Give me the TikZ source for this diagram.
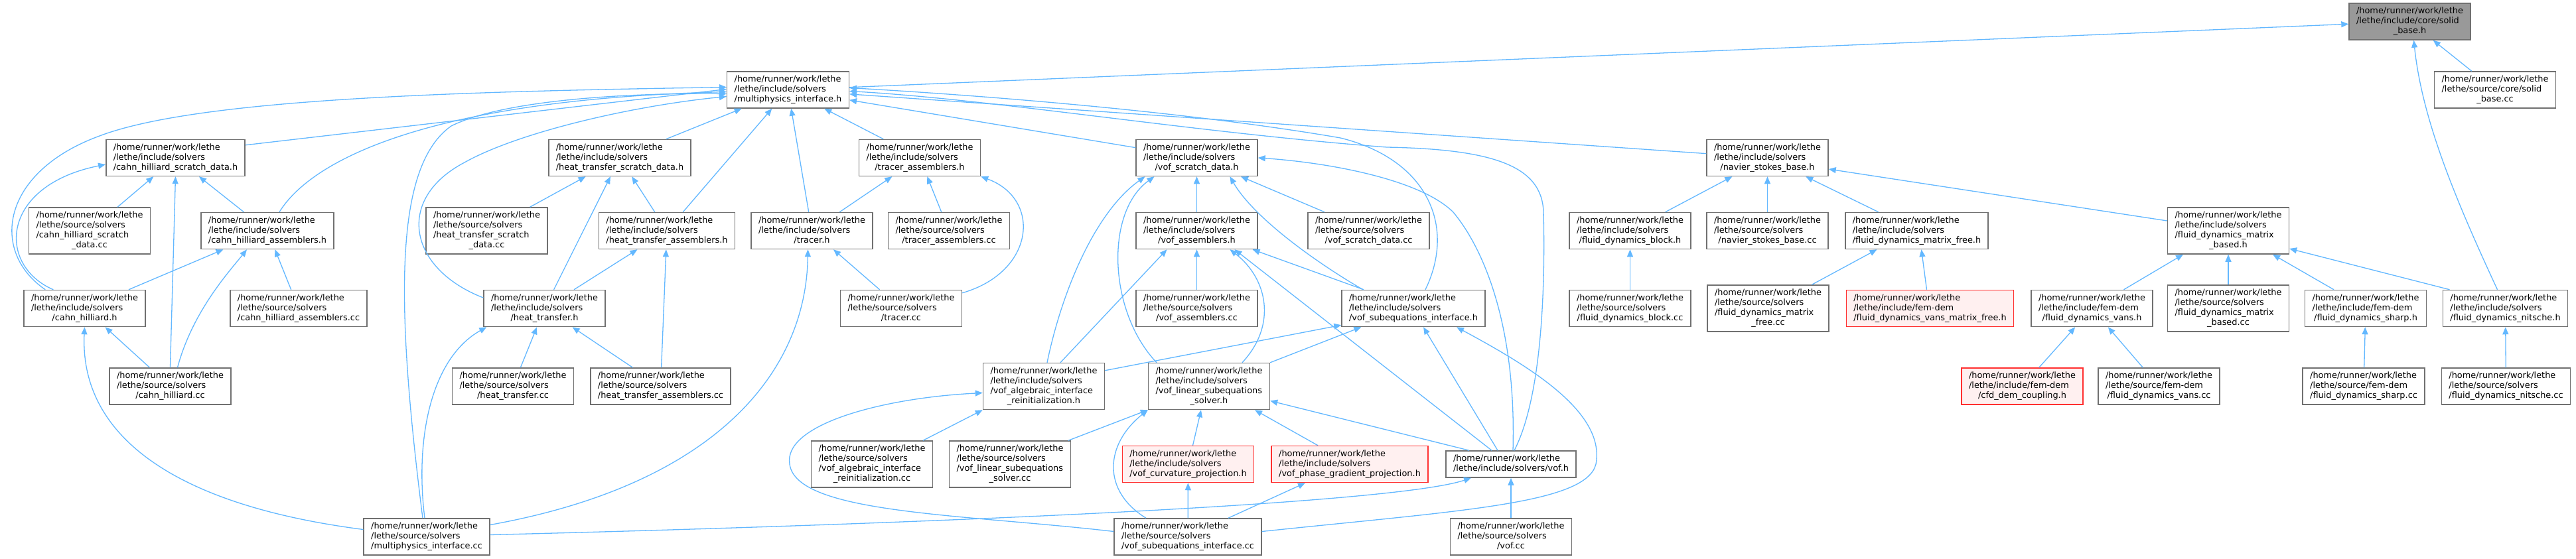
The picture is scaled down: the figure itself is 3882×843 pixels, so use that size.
\documentclass[tikz,border=0pt]{standalone}
\usepackage{fontspec}
\setmainfont{DejaVu Sans}
\usepackage{tikz}
\usetikzlibrary{arrows.meta}

\definecolor{boxgray}{HTML}{707070}
\definecolor{rootgray}{HTML}{999999}
\definecolor{truncred}{HTML}{FF3030}
\definecolor{truncfill}{HTML}{FFF0F0}
\definecolor{linkblue}{HTML}{63B8FF}

% doxygen style label: left lines, last line centred
\newcommand{\lethefile}[2]{\begin{tabular}{@{}l@{}}/home/runner/work/lethe\\#1\\\multicolumn{1}{@{}c@{}}{#2}\end{tabular}}

\begin{document}
\begin{tikzpicture}[x=1pt, y=-1pt,
					filebox/.style={
						draw=boxgray,
						fill=white,
						rectangle,
						line width=1.5pt,
						inner xsep=11pt,
						inner ysep=5pt,
						font=\fontsize{12.9}{15}\selectfont
					},
					truncbox/.style={filebox, draw=truncred, fill=truncfill},
					rootbox/.style={filebox, fill=rootgray},
					incl/.style={-{Triangle[length=11pt, width=9pt]}, line width=1.3pt, color=linkblue}
					]
					\path [use as bounding box, fill=white] (0,0) rectangle (3882,843);
					
					% Top boxes
					\node (solidbaseh) [rootbox] at (3631.5, 32.5) {\lethefile{/lethe/include/core/solid}{\_base.h}};
					\node (mpih) [filebox] at (1187.5, 135.5) {\lethefile{/lethe/include/solvers}{/multiphysics\_interface.h}};
					\node (solidbasecc) [filebox] at (3760, 135.5) {\lethefile{/lethe/source/core/solid}{\_base.cc}};
					
					% Second row
					\node (chscratchh) [filebox] at (264.5, 238) {\lethefile{/lethe/include/solvers}{/cahn\_hilliard\_scratch\_data.h}};
					\node (htscratchh) [filebox] at (934, 238) {\lethefile{/lethe/include/solvers}{/heat\_transfer\_scratch\_data.h}};
					\node (trassemh) [filebox] at (1386, 238) {\lethefile{/lethe/include/solvers}{/tracer\_assemblers.h}};
					\node (vofscratchh) [filebox] at (1803.5, 238) {\lethefile{/lethe/include/solvers}{/vof\_scratch\_data.h}};
					\node (nsbaseh) [filebox] at (2663.5, 238) {\lethefile{/lethe/include/solvers}{/navier\_stokes\_base.h}};
					
					% Third row
					\node (chscratchcc) [filebox] at (135, 348) {\lethefile{/lethe/source/solvers\\/cahn\_hilliard\_scratch}{\_data.cc}};
					\node (chassemh) [filebox] at (403, 348) {\lethefile{/lethe/include/solvers}{/cahn\_hilliard\_assemblers.h}};
					\node (htscratchcc) [filebox] at (733.5, 348) {\lethefile{/lethe/source/solvers\\/heat\_transfer\_scratch}{\_data.cc}};
					\node (htassemh) [filebox] at (1005, 348) {\lethefile{/lethe/include/solvers}{/heat\_transfer\_assemblers.h}};
					\node (tracerh) [filebox] at (1223.5, 348) {\lethefile{/lethe/include/solvers}{/tracer.h}};
					\node (trassemcc) [filebox] at (1430, 348) {\lethefile{/lethe/source/solvers}{/tracer\_assemblers.cc}};
					\node (vofassemh) [filebox] at (1803.5, 348) {\lethefile{/lethe/include/solvers}{/vof\_assemblers.h}};
					\node (vofscratchcc) [filebox] at (2062.5, 348) {\lethefile{/lethe/source/solvers}{/vof\_scratch\_data.cc}};
					\node (blockh) [filebox] at (2456.5, 348) {\lethefile{/lethe/include/solvers}{/fluid\_dynamics\_block.h}};
					\node (nsbasecc) [filebox] at (2663.5, 348) {\lethefile{/lethe/source/solvers}{/navier\_stokes\_base.cc}};
					\node (mfreeh) [filebox] at (2888.5, 348) {\lethefile{/lethe/include/solvers}{/fluid\_dynamics\_matrix\_free.h}};
					\node (mbasedh) [filebox] at (3358, 348) {\lethefile{/lethe/include/solvers\\/fluid\_dynamics\_matrix}{\_based.h}};
					
					% Fourth row
					\node (chh) [filebox] at (127.5, 465) {\lethefile{/lethe/include/solvers}{/cahn\_hilliard.h}};
					\node (chassemcc) [filebox] at (450, 465) {\lethefile{/lethe/source/solvers}{/cahn\_hilliard\_assemblers.cc}};
					\node (hth) [filebox] at (820.5, 465) {\lethefile{/lethe/include/solvers}{/heat\_transfer.h}};
					\node (tracercc) [filebox] at (1358, 465) {\lethefile{/lethe/source/solvers}{/tracer.cc}};
					\node (vofassemcc) [filebox] at (1803.5, 465) {\lethefile{/lethe/source/solvers}{/vof\_assemblers.cc}};
					\node (vofsubh) [filebox] at (2130, 465) {\lethefile{/lethe/include/solvers}{/vof\_subequations\_interface.h}};
					\node (blockcc) [filebox] at (2456.5, 465) {\lethefile{/lethe/source/solvers}{/fluid\_dynamics\_block.cc}};
					\node (mfreecc) [filebox] at (2664.5, 465) {\lethefile{/lethe/source/solvers\\/fluid\_dynamics\_matrix}{\_free.cc}};
					\node (vansmfreeh) [truncbox] at (2908.5, 465) {\lethefile{/lethe/include/fem-dem}{/fluid\_dynamics\_vans\_matrix\_free.h}};
					\node (vansh) [filebox] at (3152.5, 465) {\lethefile{/lethe/include/fem-dem}{/fluid\_dynamics\_vans.h}};
					\node (mbasedcc) [filebox] at (3358, 465) {\lethefile{/lethe/source/solvers\\/fluid\_dynamics\_matrix}{\_based.cc}};
					\node (sharph) [filebox] at (3565, 465) {\lethefile{/lethe/include/fem-dem}{/fluid\_dynamics\_sharp.h}};
					\node (nitscheh) [filebox] at (3775.5, 465) {\lethefile{/lethe/include/solvers}{/fluid\_dynamics\_nitsche.h}};
					
					% Fifth row
					\node (chcc) [filebox] at (256.5, 582.5) {\lethefile{/lethe/source/solvers}{/cahn\_hilliard.cc}};
					\node (htcc) [filebox] at (773, 582.5) {\lethefile{/lethe/source/solvers}{/heat\_transfer.cc}};
					\node (htassemcc) [filebox] at (995.5, 582.5) {\lethefile{/lethe/source/solvers}{/heat\_transfer\_assemblers.cc}};
					\node (reinith) [filebox] at (1573, 582.5) {\lethefile{/lethe/include/solvers\\/vof\_algebraic\_interface}{\_reinitialization.h}};
					\node (linsolverh) [filebox] at (1822, 582.5) {\lethefile{/lethe/include/solvers\\/vof\_linear\_subequations}{\_solver.h}};
					\node (cfddemh) [truncbox] at (3047.5, 582.5) {\lethefile{/lethe/include/fem-dem}{/cfd\_dem\_coupling.h}};
					\node (vanscc) [filebox] at (3253.5, 582.5) {\lethefile{/lethe/source/fem-dem}{/fluid\_dynamics\_vans.cc}};
					\node (sharpcc) [filebox] at (3562, 582.5) {\lethefile{/lethe/source/fem-dem}{/fluid\_dynamics\_sharp.cc}};
					\node (nitschecc) [filebox] at (3776.5, 582.5) {\lethefile{/lethe/source/solvers}{/fluid\_dynamics\_nitsche.cc}};
					
					% Sixth row
					\node (reinitcc) [filebox] at (1314, 700) {\lethefile{/lethe/source/solvers\\/vof\_algebraic\_interface}{\_reinitialization.cc}};
					\node (linsolvercc) [filebox] at (1522, 700) {\lethefile{/lethe/source/solvers\\/vof\_linear\_subequations}{\_solver.cc}};
					\node (curvatureh) [truncbox] at (1790.5, 700) {\lethefile{/lethe/include/solvers}{/vof\_curvature\_projection.h}};
					\node (phasegradh) [truncbox] at (2034, 700) {\lethefile{/lethe/include/solvers}{/vof\_phase\_gradient\_projection.h}};
					\node (vofh) [filebox] at (2277, 700) {\begin{tabular}{@{}l@{}}/home/runner/work/lethe\\\multicolumn{1}{@{}c@{}}{/lethe/include/solvers/vof.h}\end{tabular}};
					
					% Bottom row
					\node (mpicc) [filebox] at (643, 809.5) {\lethefile{/lethe/source/solvers}{/multiphysics\_interface.cc}};
					\node (vofsubcc) [filebox] at (1790, 809.5) {\lethefile{/lethe/source/solvers}{/vof\_subequations\_interface.cc}};
					\node (vofcc) [filebox] at (2277, 809.5) {\lethefile{/lethe/source/solvers}{/vof.cc}};
					
					% Arrows into solid_base.h
					\draw [incl] (mpih) -- (solidbaseh);
					\draw [incl] (solidbasecc) -- (solidbaseh);
					\draw [incl] ([xshift=-12pt]nitscheh.north) .. controls (3700,300) and (3650,180) .. ([xshift=6pt]solidbaseh.south);
					
					% Arrows into multiphysics_interface.h
					\draw [incl] ([xshift=33pt]chh.north west) .. controls (-15,380) and (0,260) .. (150,205) .. controls (300,148) and (700,138) .. ([yshift=4pt]mpih.west);
					\draw [incl] ([yshift=-9pt]chscratchh.north east) -- ([yshift=1pt]mpih.west);
					\draw [incl] ([xshift=18pt]chassemh.north) .. controls (470,240) and (650,150) .. ([yshift=-3pt]mpih.west);
					\draw [incl] ([xshift=-6pt]mpicc.north) .. controls (595,450) and (595,250) .. (680,190) .. controls (760,150) and (950,140) .. ([yshift=-6pt]mpih.west);
					\draw [incl] ([yshift=16pt]hth.west) .. controls (615,405) and (595,300) .. (700,245) .. controls (780,200) and (950,160) .. ([yshift=-10pt]mpih.west);
					\draw [incl] (htscratchh) -- (mpih);
					\draw [incl] (htassemh) -- (mpih);
					\draw [incl] (tracerh) -- (mpih);
					\draw [incl] (trassemh) -- (mpih);
					\draw [incl] (vofscratchh) -- (mpih);
					\draw [incl] (nsbaseh) -- (mpih);
					\draw [incl] ([xshift=18pt]vofsubh.north) .. controls (2195,340) and (2150,240) .. (2020,208) .. controls (1800,170) and (1500,145) .. ([yshift=3pt]mpih.east);
					\draw [incl] ([xshift=5pt]vofh.north) .. controls (2328,590) and (2328,400) .. (2326,320) .. controls (2324,250) and (2250,225) .. (2090,222) .. controls (1800,200) and (1500,150) .. ([yshift=-2pt]mpih.east);
					
					% Cahn-Hilliard
					\draw [incl] (chscratchcc) -- (chscratchh);
					\draw [incl] (chassemh) -- (chscratchh);
					\draw [incl] ([xshift=45pt]chh.north west) .. controls (-5,400) and (0,280) .. ([yshift=-10pt]chscratchh.west);
					\draw [incl] (chcc.north) -- (chscratchh.south);
					\draw [incl] (chh) -- (chassemh);
					\draw [incl] ([xshift=11pt]chcc.north) .. controls (290,470) and (345,410) .. ([xshift=-31pt]chassemh.south);
					\draw [incl] (chassemcc) -- (chassemh);
					\draw [incl] (chcc) -- (chh);
					\draw [incl] ([yshift=11pt]mpicc.west) .. controls (250,760) and (120,650) .. (chh.south);
					
					% Heat transfer
					\draw [incl] (htscratchcc) -- (htscratchh);
					\draw [incl] (htassemh) -- (htscratchh);
					\draw [incl] (hth) -- (htscratchh);
					\draw [incl] (hth) -- (htassemh);
					\draw [incl] (htassemcc) -- (htassemh);
					\draw [incl] (htcc) -- (hth);
					\draw [incl] (htassemcc) -- (hth);
					\draw [incl] ([xshift=-3pt]mpicc.north) .. controls (625,660) and (650,540) .. ([xshift=5pt]hth.south west);
					
					% Tracer
					\draw [incl] (tracerh) -- (trassemh);
					\draw [incl] (trassemcc) -- (trassemh);
					\draw [incl] ([yshift=-5pt]tracercc.north east) .. controls (1560,410) and (1570,300) .. (trassemh.south east);
					\draw [incl] (tracercc) -- (tracerh);
					\draw [incl] ([yshift=18pt]mpicc.east) .. controls (1080,730) and (1215,560) .. ([xshift=-6pt]tracerh.south);
					
					% VOF scratch data and assemblers
					\draw [incl] (vofassemh) -- (vofscratchh);
					\draw [incl] (vofscratchcc) -- (vofscratchh);
					\draw [incl] ([xshift=5pt]reinith.north) .. controls (1600,440) and (1650,320) .. ([xshift=-78pt]vofscratchh.south);
					\draw [incl] ([xshift=-79pt]linsolverh.north) .. controls (1670,470) and (1665,320) .. ([xshift=-64pt]vofscratchh.south);
					\draw [incl] ([xshift=-76pt]vofsubh.north) .. controls (1990,400) and (1890,330) .. ([xshift=50pt]vofscratchh.south);
					\draw [incl] ([xshift=3pt]vofh.north) .. controls (2285,500) and (2240,380) .. (2190,320) .. controls (2140,270) and (2000,245) .. (vofscratchh.east);
					\draw [incl] (vofassemcc) -- (vofassemh);
					\draw [incl] ([xshift=25pt]reinith.north) -- ([xshift=-45pt]vofassemh.south);
					\draw [incl] ([xshift=50pt]linsolverh.north) .. controls (1925,490) and (1910,420) .. ([xshift=50pt]vofassemh.south);
					\draw [incl] ([xshift=-29pt]vofh.north) -- ([xshift=57pt]vofassemh.south);
					\draw [incl] ([xshift=-75pt]vofsubh.north) -- ([xshift=84pt]vofassemh.south);
					
					% VOF subequations
					\draw [incl] ([yshift=-12pt]reinith.north east) -- ([yshift=3pt]vofsubh.south west);
					\draw [incl] (linsolverh.north east) -- ([xshift=30pt]vofsubh.south west);
					\draw [incl] ([xshift=-20pt]vofh.north) -- ([xshift=15pt]vofsubh.south);
					\draw [incl] ([yshift=8pt]vofsubcc.east) .. controls (2200,770) and (2390,760) .. (2405,700) .. controls (2420,620) and (2300,550) .. ([xshift=65pt]vofsubh.south);
					\draw [incl] ([xshift=77pt]reinitcc.north) -- (reinith.south west);
					\draw [incl] ([yshift=8pt]vofsubcc.west) .. controls (1450,775) and (1200,775) .. (1190,700) .. controls (1180,640) and (1330,600) .. ([yshift=-10pt]reinith.west);
					\draw [incl] ([xshift=88pt]linsolvercc.north) -- (linsolverh.south west);
					\draw [incl] ([xshift=-63pt]vofsubcc.north) .. controls (1660,740) and (1665,670) .. (linsolverh.south west);
					\draw [incl] ([xshift=7pt]curvatureh.north) -- ([xshift=-12pt]linsolverh.south);
					\draw [incl] ([xshift=-48pt]phasegradh.north) -- ([xshift=69pt]linsolverh.south);
					\draw [incl] ([xshift=-63pt]vofh.north) -- ([yshift=-22pt]linsolverh.east);
					\draw [incl] (vofsubcc) -- (curvatureh);
					\draw [incl] ([xshift=61pt]vofsubcc.north) -- ([xshift=-67pt]phasegradh.south);
					\draw [incl] (vofcc) -- (vofh);
					\draw [incl] ([yshift=3pt]mpicc.east) .. controls (1400,790) and (2100,760) .. ([xshift=-60pt]vofh.south);
					
					% Navier-Stokes and fluid dynamics
					\draw [incl] (blockh) -- (nsbaseh);
					\draw [incl] (nsbasecc) -- (nsbaseh);
					\draw [incl] (mfreeh) -- (nsbaseh);
					\draw [incl] ([yshift=15pt]mbasedh.west) -- ([yshift=-17pt]nsbaseh.east);
					\draw [incl] (blockcc) -- (blockh);
					\draw [incl] ([xshift=66pt]mfreecc.north) -- ([xshift=-60pt]mfreeh.south);
					\draw [incl] ([xshift=-5pt]vansmfreeh.north) -- ([xshift=7pt]mfreeh.south);
					\draw [incl] ([xshift=48pt]vansh.north) -- ([xshift=-68pt]mbasedh.south);
					\draw [incl] (mbasedcc) -- (mbasedh);
					\draw [incl] ([xshift=-48pt]sharph.north) -- ([xshift=67pt]mbasedh.south);
					\draw [incl] ([xshift=-84pt]nitscheh.north) -- ([yshift=-27pt]mbasedh.east);
					\draw [incl] (cfddemh) -- (vansh);
					\draw [incl] (vanscc) -- (vansh);
					\draw [incl] (sharpcc) -- (sharph);
					\draw [incl] (nitschecc) -- (nitscheh);
					
				\end{tikzpicture}
\end{document}
